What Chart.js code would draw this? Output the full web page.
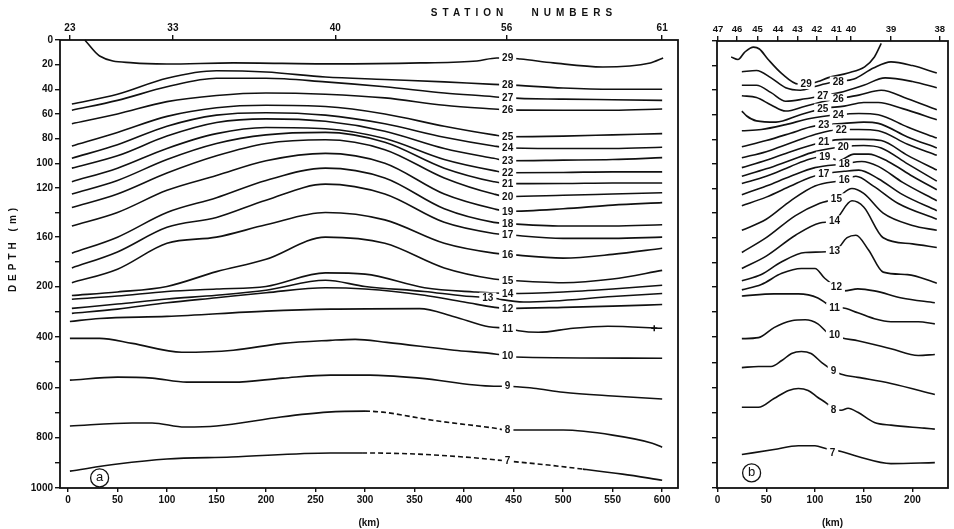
<!DOCTYPE html>
<html><head><meta charset="utf-8">
<script src="https://cdn.jsdelivr.net/npm/chart.js@4.4.1/dist/chart.umd.min.js"></script>
<style>html,body{margin:0;padding:0;background:#fff;}#wrap{position:relative;width:954px;height:529px;background:#fff;}canvas{position:absolute;top:0;}</style>
</head><body><div id="wrap"><canvas id="ca" width="690" height="529" style="left:0"></canvas><canvas id="cb" width="264" height="529" style="left:690px"></canvas></div>
<script>
// ---------- axes data ----------
const depthTicks = [0,20,40,60,80,100,120,140,160,180,200,300,400,500,600,700,800,900,1000];
const depthLabels = [0,20,40,60,80,100,120,160,200,400,600,800,1000];
const kmTicksA = [0,50,100,150,200,250,300,350,400,450,500,550,600];
const kmTicksB = [0,50,100,150,200];
const stationNamesA = ['23','33','40','56','61'];
const stationKmA = [2,106,270,443,600];
const stationNamesB = ['47','46','45','44','43','42','41','40','39','38'];
const stationKmB = [0.5,20,41,62,82,102,122,137,178,228];

// ---------- panel (a) isotherms: [km, depth m] ----------
const a29 = [[17,0],[32,13],[66,18.6],[100,19.5],[167,18.6],[265,19.4],[356,18.6],[413,17],[433,14.6],[444,14.6],[457,15.4],[490,18.6],[540,21.9],[588,18.6],[601,14.6]];
const a28 = [[4,52],[50,44],[100,31],[150,25],[200,26],[260,30],[320,32],[380,34],[430,36],[444,36.4],[500,39],[550,40],[600,40]];
const a27 = [[4,57],[50,49],[100,38],[150,31],[200,31],[260,34],[320,38],[380,43],[430,46],[444,47],[500,48],[550,48.5],[600,49]];
const a26 = [[4,68],[50,60],[100,50],[150,45],[200,43],[260,44],[320,47],[380,53],[430,56],[444,56.7],[500,57],[550,57],[600,56]];
const a25 = [[4,86],[50,75],[100,62],[150,55],[200,53],[260,54],[320,60],[380,70],[430,77],[444,78.5],[500,78],[550,77],[600,76]];
const a24 = [[4,96],[50,85],[100,70],[150,61],[200,59],[260,61],[320,68],[380,79],[430,86],[444,87.4],[500,88],[550,88],[600,87]];
const a23 = [[4,104],[50,94],[100,78],[150,67],[200,64],[260,66],[320,74],[380,88],[430,96],[444,98],[500,97.5],[550,97],[600,95.5]];
const a22 = [[4,115],[50,104],[100,88],[150,76],[200,71],[260,72],[320,80],[380,97],[430,106],[444,107.7],[500,107.5],[550,107],[600,107]];
const a21 = [[4,125],[50,114],[100,97],[150,84],[200,77],[260,75],[320,83],[380,104],[430,115],[444,116.6],[500,116.5],[550,116],[600,116]];
const a20 = [[4,136],[50,125],[100,108],[150,94],[200,84],[260,81],[320,89],[380,112],[430,125],[444,127],[500,126],[550,125],[600,124]];
const a19 = [[4,151],[50,140],[100,122],[150,110],[200,98],[260,92],[320,100],[380,125],[430,137],[444,139],[500,137],[550,134],[600,132]];
const a18 = [[4,173],[50,160],[100,140],[150,128],[200,114],[260,104],[320,112],[380,137],[430,148],[444,149],[500,151],[550,151],[600,150]];
const a17 = [[4,185],[50,172],[100,152],[150,144],[200,130],[260,117],[320,125],[380,148],[430,157],[444,158],[500,161],[550,161],[600,160]];
const a16 = [[4,197],[50,186],[100,165],[150,160],[200,150],[260,140],[320,146],[380,165],[430,173],[444,174],[500,177],[550,174],[600,169]];
const a15 = [[4,236],[50,222],[100,200],[150,188],[200,178],[260,160],[320,165],[380,185],[430,194],[444,195],[500,197],[550,194],[600,187]];
const a14 = [[4,251],[50,238],[100,220],[150,210],[200,200],[260,189],[300,190],[360,205],[410,222],[444,228],[500,222],[550,210],[600,199]];
const a13 = [[4,287],[50,270],[100,250],[150,235],[200,215],[260,195],[300,200],[360,220],[400,238],[424,244],[460,262],[490,258],[550,240],[600,228]];
const a12 = [[4,307],[50,290],[100,265],[150,245],[200,225],[260,205],[300,210],[360,235],[400,262],[444,287],[500,283],[550,278],[600,272]];
const a11 = [[2,339],[32,327],[100,319],[200,298],[265,290],[355,288],[390,320],[425,360],[444,366],[455,376],[475,382],[510,366],[545,358],[600,366]];
const a10 = [[2,406],[32,406],[65,426],[115,461],[167,453],[217,426],[265,414],[290,410],[322,422],[390,453],[433,469],[444,477],[460,481],[600,485]];
const a9  = [[2,572],[50,560],[85,564],[120,580],[167,580],[217,564],[265,552],[305,552],[355,564],[430,596],[444,596],[470,604],[500,620],[550,635],[600,647]];
const a8  = [[2,754],[65,742],[85,742],[118,758],[150,754],[215,718],[262,699],[300,695],[318,699],[368,731],[430,762],[444,770],[500,770],[550,790],[590,822],[600,838]];
const a7  = [[2,933],[50,905],[100,885],[165,877],[265,861],[297,861],[350,865],[400,877],[444,893],[485,909],[520,925],[560,945],[600,969]];
const a8Dashed = [300,444];
const a7Dashed = [297,520];
const aMark = [[592,366]];
// labels panel (a): [temperature, km, depth]
const labelsA = [[29,444,14.6],[28,444,36.4],[27,444,47],[26,444,56.7],[25,444,78.5],[24,444,87.4],[23,444,98],[22,444,107.7],[21,444,116.6],[20,444,127],[19,444,139],[18,444,149],[17,444,158],[16,444,174],[15,444,195],[14,444,228],[13,424,244],[12,444,287],[11,444,366],[10,444,477],[9,444,596],[8,444,770],[7,444,893]];

// ---------- panel (b) isotherms ----------
const b29 = [[14,13],[21,15],[28,9],[37,5],[43,6.5],[52,15],[66,26.5],[83,35],[91,35],[103,33],[113,30],[134,26],[151,21],[161,13],[168,2]];
const b28 = [[25,25],[40,24],[55,30],[70,38],[85,40],[100,37],[115,34],[124,33],[140,31],[160,22],[178,17],[200,20],[225,26]];
const b27 = [[25,36],[40,36],[55,42],[70,49],[90,47],[108,44.5],[125,42],[150,36],[172,30],[200,33],[225,38]];
const b26 = [[25,44.5],[40,46],[55,52],[70,57],[90,53],[110,49],[124,47],[145,44],[168,40],[195,47],[225,56]];
const b25 = [[25,57],[30,61],[40,65],[60,66],[85,60],[108,55],[130,53],[150,50],[165,50],[190,55],[225,64]];
const b24 = [[25,73],[45,72],[70,68],[95,63],[124,60],[145,59],[165,60],[195,70],[225,79]];
const b23 = [[25,86],[50,81],[75,75],[95,70],[109,68],[130,67],[150,66],[165,67],[195,78],[225,87]];
const b22 = [[25,95],[50,90],[75,83],[100,76],[127,72],[145,72],[165,73],[195,84],[225,93]];
const b21 = [[25,103],[50,97],[75,90],[95,85],[109,82],[130,80],[150,80],[168,81],[195,93],[225,105]];
const b20 = [[25,110],[50,104],[75,97],[100,90],[129,86],[150,85],[168,87],[195,100],[225,114]];
const b19 = [[25,116],[50,110],[75,102],[95,96],[110,94],[125,97],[140,92],[155,92],[175,98],[200,110],[225,121]];
const b18 = [[25,125],[50,118],[75,110],[100,103],[130,100],[148,98],[165,102],[190,115],[225,130]];
const b17 = [[25,134],[50,127],[75,118],[95,111],[109,108],[130,106],[145,105],[165,112],[190,125],[225,138]];
const b16 = [[25,154],[50,145],[75,130],[100,118],[130,113],[142,110],[160,118],[185,132],[225,145]];
const b15 = [[25,172],[50,160],[80,142],[105,132],[122,128],[138,120],[150,124],[170,140],[200,150],[225,154]];
const b14 = [[25,185],[50,175],[80,158],[105,148],[120,146],[138,130],[150,135],[170,160],[200,165],[225,168]];
const b13 = [[25,195],[45,190],[65,180],[90,172],[120,171],[133,160],[142,158],[155,170],[170,188],[195,190],[225,197]];
const b12 = [[25,212],[45,198],[66,189],[86,185],[100,185],[110,193],[122,201],[130,216],[144,208],[161,216],[189,244],[223,263]];
const b11 = [[25,236],[58,228],[83,228],[103,244],[112,267],[120,283],[127,283],[144,303],[161,327],[178,339],[206,339],[223,347]];
const b10 = [[25,406],[42,402],[58,362],[76,335],[90,331],[103,347],[113,382],[120,390],[127,402],[144,414],[178,446],[206,473],[223,469]];
const b9  = [[25,521],[42,517],[55,517],[66,493],[76,465],[86,457],[96,465],[107,501],[119,533],[127,548],[144,560],[178,584],[223,628]];
const b8  = [[25,679],[42,679],[58,644],[73,612],[83,604],[93,612],[103,640],[112,663],[119,687],[127,691],[134,683],[144,699],[161,739],[178,750],[212,762],[223,766]];
const b7  = [[25,867],[58,847],[83,832],[100,832],[112,844],[118,848],[127,855],[144,875],[178,903],[223,899]];
const labelsB = [[29,91,35],[28,124,33],[27,108,44.5],[26,124,47],[25,108,55],[24,124,60],[23,109,68],[22,127,72],[21,109,82],[20,129,86],[19,110,94],[18,130,100],[17,109,108],[16,130,113],[15,122,128],[14,120,146],[13,120,171],[12,122,201],[11,120,283],[10,120,390],[9,119,533],[8,119,687],[7,118,861]];

// ---------- helpers ----------
const INK = '#111';
const FONT = {family:'"Liberation Sans", Arial, sans-serif', size:10, weight:'bold'};
const K = 4.89;
const fwd = d => d <= 200 ? d : 200 + (d - 200) / K;
const inv = u => u <= 200 ? u : 200 + (u - 200) * K;

class DepthScale extends Chart.LinearScale {
  getPixelForValue(v) {
    const a = fwd(this.min), b = fwd(this.max);
    return this.getPixelForDecimal((fwd(v) - a) / (b - a));
  }
  getValueForPixel(p) {
    const a = fwd(this.min), b = fwd(this.max);
    return inv(a + this.getDecimalForPixel(p) * (b - a));
  }
}
DepthScale.id = 'depth';
DepthScale.defaults = Chart.LinearScale.defaults;
Chart.register(DepthScale);

function ds(pts, dash) {
  const o = {data: pts.map(p => ({x:p[0], y:p[1]})), borderColor:INK, borderWidth:1.6, pointRadius:0,
    fill:false, cubicInterpolationMode:'monotone', clip:false};
  if (dash) o.segment = {borderDash: c => (c.p0.parsed.x >= dash[0]-0.01 && c.p1.parsed.x <= dash[1]+0.01) ? [5,3] : undefined};
  return o;
}
function marks(pts) {
  return {data: pts.map(p => ({x:p[0], y:p[1]})), showLine:false, pointStyle:'cross', pointRadius:3,
    borderColor:INK, borderWidth:1.5, backgroundColor:INK};
}

const gridTicks = (len) => ({display:true, drawOnChartArea:false, drawTicks:true, tickLength:len, color:INK, lineWidth:1.4});

const isoLabels = {
  id:'isoLabels',
  afterDatasetsDraw(chart, args, opts) {
    const {ctx, scales:{x, y}} = chart;
    ctx.save();
    ctx.font = 'bold 10px "Liberation Sans", Arial, sans-serif';
    ctx.textAlign = 'center'; ctx.textBaseline = 'middle';
    for (const [t, km, d] of opts.items) {
      const px = x.getPixelForValue(km), py = y.getPixelForValue(d);
      const w = ctx.measureText(String(t)).width;
      ctx.fillStyle = '#fff';
      ctx.fillRect(px - w/2 - 3, py - 5, w + 6, 10);
      ctx.fillStyle = INK;
      ctx.fillText(String(t), px, py + 0.5);
    }
    const a = chart.chartArea;
    ctx.strokeStyle = INK; ctx.lineWidth = 1.8;
    ctx.strokeRect(a.left, a.top, a.right - a.left, a.bottom - a.top);
    const [letter, km, d] = opts.panel;
    const cx = x.getPixelForValue(km), cy = y.getPixelForValue(d);
    ctx.fillStyle = '#fff';
    ctx.beginPath(); ctx.arc(cx, cy, 9, 0, Math.PI*2); ctx.fill();
    ctx.lineWidth = 1.3; ctx.stroke();
    ctx.fillStyle = INK; ctx.font = '13px "Liberation Sans", Arial, sans-serif';
    ctx.fillText(letter, cx, cy);
    ctx.restore();
  }
};

const titles = {
  id:'titles',
  afterDraw(chart, args, opts) {
    if (!opts.on) return;
    const ctx = chart.ctx;
    ctx.save();
    ctx.fillStyle = INK;
    ctx.font = 'bold 10px "Liberation Sans", Arial, sans-serif';
    ctx.letterSpacing = '5px';
    ctx.textAlign = 'center'; ctx.textBaseline = 'middle';
    ctx.fillText('STATION   NUMBERS', 524, 13);
    ctx.translate(13, 248); ctx.rotate(-Math.PI/2);
    ctx.letterSpacing = '4px';
    ctx.fillText('DEPTH (m)', 0, 0);
    ctx.restore();
  }
};

function makeChart(id, cfg) {
  return new Chart(document.getElementById(id), {
    type:'line',
    data:{datasets: cfg.sets},
    plugins:[isoLabels, titles],
    options:{
      responsive:false, animation:false, devicePixelRatio:1,
      layout:{padding:{left:0, right:cfg.padRight, top:0, bottom:0}},
      plugins:{legend:{display:false}, tooltip:{enabled:false},
        isoLabels:{items:cfg.labels, panel:cfg.panel}, titles:{on:cfg.titles}},
      scales:{
        x:{type:'linear', position:'bottom', min:cfg.xmin, max:cfg.xmax,
          afterBuildTicks: s => { s.ticks = cfg.kmTicks.map(v => ({value:v})); },
          ticks:{font:FONT, color:INK, padding:2, maxRotation:0, autoSkip:false, callback: v => String(v)},
          grid:gridTicks(4), border:{display:false},
          title:{display:true, text:'(km)', font:FONT, color:INK, padding:{top:6, bottom:0}},
          afterFit: s => { s.height = 41; }},
        xt:{type:'linear', position:'top', min:cfg.xmin, max:cfg.xmax,
          afterBuildTicks: s => { s.ticks = cfg.stKm.map(v => ({value:v})); },
          ticks:{font:{...FONT, size:cfg.stSize}, color:INK, padding:1, maxRotation:0, autoSkip:false,
            callback: (v, i) => cfg.stNames[i]},
          grid:gridTicks(5), border:{display:false},
          afterFit: s => { s.height = cfg.top; }},
        y:{type:'depth', position:'left', min:0, max:1000, reverse:true,
          afterBuildTicks: s => { s.ticks = depthTicks.map(v => ({value:v})); },
          ticks:{display:cfg.yLabels, font:FONT, color:INK, padding:2, autoSkip:false,
            callback: v => depthLabels.includes(v) ? String(v) : ''},
          grid:gridTicks(5), border:{display:false},
          afterFit: s => { s.width = cfg.yWidth; }}
      }
    }
  });
}

makeChart('ca', {
  sets:[ds(a29),ds(a28),ds(a27),ds(a26),ds(a25),ds(a24),ds(a23),ds(a22),ds(a21),ds(a20),ds(a19),ds(a18),ds(a17),ds(a16),ds(a15),ds(a14),ds(a13),ds(a12),ds(a11),ds(a10),ds(a9),ds(a8,a8Dashed),ds(a7,a7Dashed),marks(aMark)],
  labels:labelsA, panel:['a',32,960], titles:true,
  padRight:12, xmin:-8, xmax:616, kmTicks:kmTicksA, stKm:stationKmA, stNames:stationNamesA, stSize:10,
  top:40, yLabels:true, yWidth:60
});
makeChart('cb', {
  sets:[ds(b29),ds(b28),ds(b27),ds(b26),ds(b25),ds(b24),ds(b23),ds(b22),ds(b21),ds(b20),ds(b19),ds(b18),ds(b17),ds(b16),ds(b15),ds(b14),ds(b13),ds(b12),ds(b11),ds(b10),ds(b9),ds(b8),ds(b7)],
  labels:labelsB, panel:['b',35,940], titles:false,
  padRight:6, xmin:-0.5, xmax:236.5, kmTicks:kmTicksB, stKm:stationKmB, stNames:stationNamesB, stSize:9.5,
  top:41, yLabels:false, yWidth:27
});
</script></body></html>
